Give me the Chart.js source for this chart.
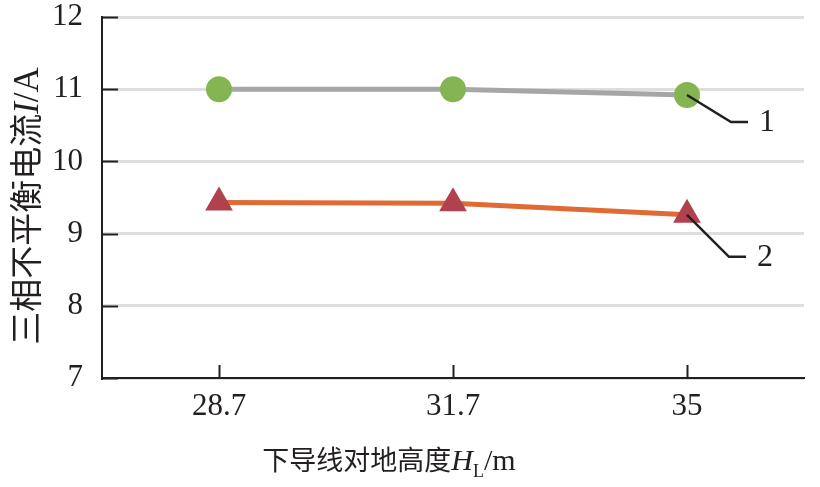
<!DOCTYPE html>
<html>
<head>
<meta charset="utf-8">
<script src="https://cdn.jsdelivr.net/npm/chart.js@4/dist/chart.umd.min.js"></script>
<style>
    html, body { margin: 0; padding: 0; background: #fff; }
    #wrap { width: 820px; height: 487px; position: relative; }
</style>
</head>
<body>
<div id="wrap"><canvas id="chart"></canvas></div>
<script>
// Chart data
const heights = ['28.7', '31.7', '35'];          // 下导线对地高度 H_L / m
const currentSeries1 = [11.0, 11.0, 10.92];       // curve 1
const currentSeries2 = [9.43, 9.42, 9.26];        // curve 2
const seriesLabels = ['1', '2'];
const yTicks = [7, 8, 9, 10, 11, 12];

const SERIF = '"Liberation Serif", "DejaVu Serif", serif';
const CJK = '"Noto Sans CJK SC", sans-serif';
const INK = '#231f20';

/**
 * Draws inward tick marks on both axes (Chart.js only draws them outward)
 */
const inwardTicks = {
    id: 'inwardTicks',
    afterDatasetsDraw(chart) {
        const { ctx, scales: { x, y } } = chart;
        ctx.save();
        ctx.strokeStyle = INK;
        ctx.lineWidth = 2;
        y.ticks.forEach((t, i) => {
            const py = Math.round(y.getPixelForTick(i)) + 0.5;
            ctx.beginPath();
            ctx.moveTo(x.left, py);
            ctx.lineTo(x.left + 16, py);
            ctx.stroke();
        });
        x.ticks.forEach((t, i) => {
            const px = Math.round(x.getPixelForTick(i)) + 0.5;
            ctx.beginPath();
            ctx.moveTo(px, y.bottom);
            ctx.lineTo(px, y.bottom - 13);
            ctx.stroke();
        });
        ctx.restore();
    }
};

/**
 * Leader lines pointing from the last point of each curve to its number
 */
const leaderLabels = {
    id: 'leaderLabels',
    afterDatasetsDraw(chart) {
        const { ctx } = chart;
        const bends = [[44, 27], [42, 42]];
        ctx.save();
        ctx.strokeStyle = INK;
        ctx.fillStyle = INK;
        ctx.lineWidth = 2.5;
        ctx.font = '32px ' + SERIF;
        ctx.textAlign = 'left';
        ctx.textBaseline = 'middle';
        seriesLabels.forEach((label, i) => {
            const pts = chart.getDatasetMeta(i).data;
            const p = pts[pts.length - 1];
            const [dx, dy] = bends[i];
            ctx.beginPath();
            ctx.moveTo(p.x, p.y);
            ctx.lineTo(p.x + dx, p.y + dy);
            ctx.lineTo(p.x + dx + 17, p.y + dy);
            ctx.stroke();
            ctx.fillText(label, p.x + dx + 28, p.y + dy + 1);
        });
        ctx.restore();
    }
};

// Draw a run of [text, font, dy] pieces one after another
function drawRuns(ctx, runs, x, y) {
    let cx = x;
    runs.forEach(([text, font, dy]) => {
        ctx.font = font;
        ctx.fillText(text, cx, y + (dy || 0));
        cx += ctx.measureText(text).width;
    });
    return cx - x;
}

function runsWidth(ctx, runs) {
    let w = 0;
    runs.forEach(([text, font]) => {
        ctx.font = font;
        w += ctx.measureText(text).width;
    });
    return w;
}

/**
 * Axis titles with italic symbols and subscript
 */
const axisTitles = {
    id: 'axisTitles',
    afterDraw(chart) {
        const { ctx } = chart;
        ctx.save();
        ctx.fillStyle = INK;
        ctx.textBaseline = 'alphabetic';
        ctx.textAlign = 'left';

        const yRuns = [
            ['三相不平衡电流', '33px ' + CJK],
            ['I', 'italic 35px ' + SERIF],
            ['/A', '35px ' + SERIF]
        ];
        ctx.translate(38, 206);
        ctx.rotate(-Math.PI / 2);
        drawRuns(ctx, yRuns, -runsWidth(ctx, yRuns) / 2, 0);
        ctx.restore();

        ctx.save();
        ctx.fillStyle = INK;
        ctx.textBaseline = 'alphabetic';
        ctx.textAlign = 'left';
        const xRuns = [
            ['下导线对地高度', '27px ' + CJK],
            ['H', 'italic 30px ' + SERIF],
            ['L', '18px ' + SERIF, 7],
            ['/m', '30px ' + SERIF]
        ];
        drawRuns(ctx, xRuns, 389 - runsWidth(ctx, xRuns) / 2, 470);
        ctx.restore();
    }
};

const config = {
    type: 'line',
    data: {
        labels: heights,
        datasets: [
            {
                label: seriesLabels[0],
                data: currentSeries1,
                borderColor: '#a6a6a6',
                borderWidth: 5,
                pointStyle: 'circle',
                pointRadius: 13,
                pointBackgroundColor: '#84b552',
                pointBorderWidth: 0,
                tension: 0
            },
            {
                label: seriesLabels[1],
                data: currentSeries2,
                borderColor: '#e06a33',
                borderWidth: 5,
                pointStyle: 'triangle',
                pointRadius: 16,
                pointBackgroundColor: '#b0414f',
                pointBorderWidth: 0,
                tension: 0
            }
        ]
    },
    options: {
        responsive: true,
        maintainAspectRatio: false,
        animation: false,
        layout: { padding: { left: 0, top: 17, right: 10, bottom: 0 } },
        plugins: {
            legend: { display: false },
            tooltip: { enabled: false }
        },
        scales: {
            x: {
                type: 'category',
                offset: true,
                afterFit: scale => {
                    scale.height = 109;
                    scale.paddingLeft = 0;
                    scale.paddingRight = 0;
                },
                grid: { display: false, drawTicks: false },
                border: { display: true, color: INK, width: 2 },
                ticks: {
                    padding: 10,
                    color: INK,
                    font: { family: SERIF, size: 31 }
                }
            },
            y: {
                min: 7,
                max: 12,
                afterFit: scale => {
                    scale.width = 102;
                    scale.paddingTop = 0;
                    scale.paddingBottom = 0;
                },
                afterBuildTicks: scale => {
                    scale.ticks = yTicks.map(v => ({ value: v }));
                },
                grid: {
                    color: '#dedede',
                    lineWidth: 3,
                    drawTicks: false
                },
                border: { display: true, color: INK, width: 2 },
                ticks: {
                    padding: 19,
                    color: INK,
                    font: { family: SERIF, size: 31 }
                }
            }
        }
    },
    plugins: [inwardTicks, leaderLabels, axisTitles]
};

new Chart(document.getElementById('chart'), config);
</script>
</body>
</html>
